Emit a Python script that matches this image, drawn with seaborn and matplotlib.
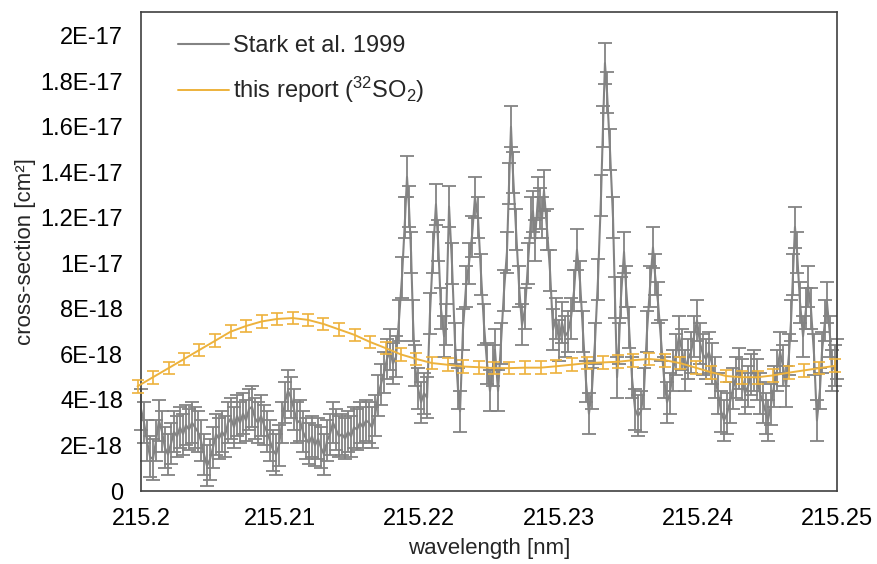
import matplotlib
matplotlib.use("Agg")
import matplotlib.pyplot as plt
from matplotlib.ticker import MultipleLocator, FixedLocator, FixedFormatter
import seaborn as sns
import numpy as np

# ---------------- data ----------------
# Stark et al. 1999 : wavelength [nm] and cross-section [1E-18 cm^2]
stark_wl = [
    215.20000, 215.20022, 215.20043, 215.20065, 215.20086, 215.20108, 215.20129, 215.20151, 215.20172, 215.20194,
    215.20216, 215.20237, 215.20259, 215.20280, 215.20302, 215.20323, 215.20345, 215.20366, 215.20388, 215.20409,
    215.20431, 215.20453, 215.20474, 215.20496, 215.20517, 215.20539, 215.20560, 215.20582, 215.20603, 215.20625,
    215.20647, 215.20668, 215.20690, 215.20711, 215.20733, 215.20754, 215.20776, 215.20797, 215.20819, 215.20841,
    215.20862, 215.20884, 215.20905, 215.20927, 215.20948, 215.20970, 215.20991, 215.21013, 215.21034, 215.21056,
    215.21078, 215.21099, 215.21121, 215.21142, 215.21164, 215.21185, 215.21207, 215.21228, 215.21250, 215.21272,
    215.21293, 215.21315, 215.21336, 215.21358, 215.21379, 215.21401, 215.21422, 215.21444, 215.21466, 215.21487,
    215.21509, 215.21530, 215.21552, 215.21573, 215.21595, 215.21616, 215.21638, 215.21659, 215.21681, 215.21703,
    215.21724, 215.21746, 215.21767, 215.21789, 215.21810, 215.21832, 215.21853, 215.21875, 215.21897, 215.21911,
    215.21925, 215.21940, 215.21954, 215.21968, 215.21990, 215.22012, 215.22033, 215.22055, 215.22076, 215.22098,
    215.22119, 215.22134, 215.22155, 215.22177, 215.22191, 215.22213, 215.22234, 215.22256, 215.22277, 215.22292,
    215.22313, 215.22335, 215.22356, 215.22378, 215.22399, 215.22421, 215.22443, 215.22464, 215.22486, 215.22507,
    215.22529, 215.22543, 215.22565, 215.22586, 215.22608, 215.22629, 215.22644, 215.22658, 215.22672, 215.22694,
    215.22716, 215.22737, 215.22759, 215.22780, 215.22802, 215.22816, 215.22830, 215.22852, 215.22866, 215.22881,
    215.22895, 215.22917, 215.22938, 215.22960, 215.22981, 215.23003, 215.23024, 215.23046, 215.23068, 215.23089,
    215.23111, 215.23132, 215.23154, 215.23175, 215.23197, 215.23218, 215.23240, 215.23261, 215.23283, 215.23305,
    215.23319, 215.23333, 215.23348, 215.23369, 215.23391, 215.23405, 215.23420, 215.23434, 215.23448, 215.23470,
    215.23484, 215.23506, 215.23527, 215.23549, 215.23570, 215.23592, 215.23614, 215.23635, 215.23657, 215.23678,
    215.23693, 215.23714, 215.23736, 215.23757, 215.23779, 215.23800, 215.23822, 215.23843, 215.23865, 215.23886,
    215.23908, 215.23930, 215.23951, 215.23973, 215.23994, 215.24016, 215.24037, 215.24059, 215.24080, 215.24102,
    215.24124, 215.24145, 215.24167, 215.24188, 215.24210, 215.24231, 215.24253, 215.24274, 215.24296, 215.24318,
    215.24339, 215.24361, 215.24382, 215.24404, 215.24425, 215.24447, 215.24468, 215.24490, 215.24504, 215.24526,
    215.24547, 215.24569, 215.24591, 215.24612, 215.24634, 215.24655, 215.24670, 215.24684, 215.24698, 215.24713,
    215.24734, 215.24756, 215.24777, 215.24792, 215.24813, 215.24835, 215.24856, 215.24878, 215.24892, 215.24914,
    215.24928, 215.24950, 215.24964, 215.24986, 215.25000,
]
stark_xs = [
    3.6, 3.0, 2.2, 1.5, 1.4, 2.2, 3.1, 2.6, 1.9, 1.6,
    2.1, 2.6, 2.4, 2.8, 2.5, 2.9, 2.7, 3.0, 2.8, 2.6,
    2.2, 1.6, 1.1, 1.4, 1.9, 2.5, 2.3, 2.6, 2.4, 3.0,
    3.2, 2.8, 3.3, 3.0, 3.4, 3.1, 3.6, 3.7, 3.2, 3.0,
    3.3, 2.9, 2.6, 2.2, 1.8, 1.6, 2.0, 3.0, 3.9, 4.4,
    4.1, 3.6, 3.0, 3.1, 2.6, 2.3, 2.1, 2.4, 2.0, 2.3,
    1.9, 1.6, 2.2, 2.5, 3.0, 2.7, 2.4, 2.5, 2.3, 2.6,
    2.4, 2.8, 2.7, 3.0, 2.8, 3.1, 3.0, 2.8, 3.3, 4.2,
    4.7, 5.2, 5.8, 6.2, 5.6, 5.9, 7.5, 9.4, 12.0, 13.8,
    12.5, 10.5, 7.5, 5.5, 4.5, 3.9, 4.3, 4.1, 7.8, 10.5,
    12.6, 11.0, 8.0, 6.8, 7.3, 12.5, 10.0, 6.5, 4.5, 3.5,
    7.1, 9.0, 10.0, 11.2, 12.9, 12.0, 9.5, 7.3, 5.6, 4.4,
    5.5, 6.2, 4.4, 6.5, 8.8, 10.5, 13.5, 16.0, 14.0, 11.5,
    9.0, 7.3, 8.0, 10.0, 12.0, 12.3, 11.0, 12.9, 12.4, 12.0,
    13.2, 11.5, 9.7, 7.1, 7.6, 6.6, 7.4, 6.8, 7.0, 7.6,
    8.8, 10.6, 9.2, 7.0, 4.8, 3.4, 4.5, 6.5, 9.3, 13.0,
    16.0, 18.8, 17.5, 15.0, 12.0, 8.5, 5.0, 6.5, 8.5, 10.5,
    9.0, 7.2, 5.0, 3.6, 3.3, 3.5, 4.5, 7.0, 9.0, 10.7,
    9.5, 8.3, 6.6, 5.0, 3.9, 4.3, 5.3, 6.0, 6.8, 6.2,
    5.3, 5.8, 6.1, 6.8, 7.5, 6.5, 6.0, 5.8, 6.1, 5.6,
    5.0, 4.3, 3.5, 3.1, 3.4, 3.9, 4.5, 5.0, 5.4, 4.9,
    4.3, 4.6, 5.1, 5.3, 4.9, 4.3, 3.9, 3.4, 3.1, 3.8,
    4.6, 5.3, 6.1, 5.5, 4.6, 6.0, 7.5, 9.5, 11.6, 10.5,
    8.3, 6.8, 8.0, 9.0, 8.0, 6.0, 3.1, 4.5, 6.1, 7.5,
    8.3, 6.8, 5.3, 5.5, 5.8,
]
stark_err = 0.9  # [1E-18 cm^2]

# this report (32SO2)
report_wl = [
    215.19975, 215.20086, 215.20198, 215.20309, 215.20420, 215.20532, 215.20643, 215.20754, 215.20866, 215.20977,
    215.21089, 215.21200, 215.21311, 215.21423, 215.21534, 215.21645, 215.21757, 215.21868, 215.21979, 215.22091,
    215.22202, 215.22313, 215.22425, 215.22536, 215.22647, 215.22759, 215.22870, 215.22981, 215.23093, 215.23204,
    215.23316, 215.23427, 215.23538, 215.23650, 215.23761, 215.23872, 215.23984, 215.24095, 215.24206, 215.24318,
    215.24429, 215.24540, 215.24652, 215.24763, 215.24874, 215.24986,
]
report_xs = [
    4.6, 5.0, 5.4, 5.8, 6.2, 6.6, 7.0, 7.25, 7.45, 7.56,
    7.6, 7.52, 7.34, 7.1, 6.86, 6.55, 6.28, 6.0, 5.8, 5.62,
    5.55, 5.47, 5.44, 5.4, 5.4, 5.42, 5.42, 5.48, 5.55, 5.62,
    5.65, 5.68, 5.75, 5.8, 5.75, 5.62, 5.42, 5.22, 5.05, 5.0,
    5.0, 5.08, 5.2, 5.3, 5.4, 5.5,
]
report_err = 0.28  # [1E-18 cm^2]

x_ticks = [215.2, 215.21, 215.22, 215.23, 215.24, 215.25]
x_tick_labels = ["215.2", "215.21", "215.22", "215.23", "215.24", "215.25"]
y_ticks = [0, 2, 4, 6, 8, 10, 12, 14, 16, 18, 20]
y_tick_labels = ["0", "2E-18", "4E-18", "6E-18", "8E-18", "1E-17",
                 "1.2E-17", "1.4E-17", "1.6E-17", "1.8E-17", "2E-17"]

# ---------------- style ----------------
sns.set_style("white")
plt.rcParams["font.family"] = ["Liberation Sans", "DejaVu Sans"]
plt.rcParams["mathtext.fontset"] = "custom"
plt.rcParams["mathtext.rm"] = "Liberation Sans"
plt.rcParams["mathtext.it"] = "Liberation Sans:italic"

GRAY = "#838383"
GOLD = "#EDB23C"
FS_TICK = 17
FS_LAB = 16

fig = plt.figure(figsize=(8.77, 5.64), dpi=100)
ax = fig.add_axes([141 / 877, 73 / 564, 696 / 877, 479 / 564])

# Stark series
sns.lineplot(x=stark_wl, y=stark_xs, ax=ax, color=GRAY, lw=1.5,
             label="Stark et al. 1999", sort=False, zorder=2)
ax.errorbar(stark_wl, stark_xs, yerr=stark_err, fmt="none", ecolor=GRAY,
            elinewidth=1.3, capsize=5.2, capthick=1.3, zorder=2, clip_on=False)

# this report series
sns.lineplot(x=report_wl, y=report_xs, ax=ax, color=GOLD, lw=1.4,
             label=r"this report ($\mathregular{^{32}}$SO$\mathregular{_2}$)", sort=False, zorder=3)
ax.errorbar(report_wl, report_xs, yerr=report_err, fmt="none", ecolor=GOLD,
            elinewidth=1.2, capsize=4.6, capthick=1.2, zorder=3, clip_on=False)
for ln in ax.lines:
    ln.set_clip_on(False)

ax.set_xlim(215.2, 215.25)
ax.set_ylim(0, 21.05)

ax.xaxis.set_major_locator(FixedLocator(x_ticks))
ax.xaxis.set_major_formatter(FixedFormatter(x_tick_labels))
ax.xaxis.set_minor_locator(MultipleLocator(0.002))
ax.yaxis.set_major_locator(FixedLocator(y_ticks))
ax.yaxis.set_major_formatter(FixedFormatter(y_tick_labels))
ax.yaxis.set_minor_locator(MultipleLocator(1))

ax.tick_params(axis="both", which="both", direction="in", length=5, width=1.0,
               color="#404040", labelsize=FS_TICK, labelcolor="black")
ax.tick_params(axis="x", which="both", pad=12)
ax.tick_params(axis="y", which="both", pad=13)

for side in ["left", "right", "top", "bottom"]:
    ax.spines[side].set_visible(True)
    ax.spines[side].set_color("#404040")
    ax.spines[side].set_linewidth(1.2)

ax.set_xlabel("wavelength [nm]", fontsize=FS_LAB, labelpad=6)
ax.set_ylabel("cross-section [cm²]", fontsize=FS_LAB, labelpad=3)

leg = ax.legend(loc="upper left", bbox_to_anchor=(0.053, 0.952), frameon=False,
                fontsize=FS_TICK, handlelength=2.15, handletextpad=0.2,
                labelspacing=0.75, borderaxespad=0, borderpad=0)

fig.savefig("out.png", dpi=100)
